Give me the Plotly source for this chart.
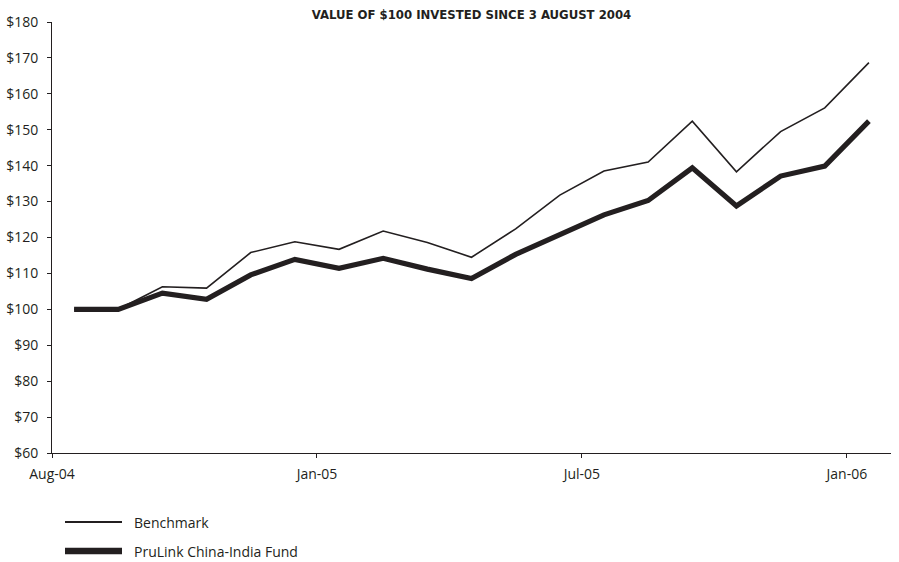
import plotly.graph_objects as go

# Monthly observations, Aug 2004 – Feb 2006 (value of $100 invested)
months = ["Aug-04", "Sep-04", "Oct-04", "Nov-04", "Dec-04", "Jan-05", "Feb-05",
          "Mar-05", "Apr-05", "May-05", "Jun-05", "Jul-05", "Aug-05", "Sep-05",
          "Oct-05", "Nov-05", "Dec-05", "Jan-06", "Feb-06"]
benchmark = [100, 100, 106.3, 105.9, 115.8, 118.8, 116.7, 121.8, 118.6, 114.5,
             122.4, 131.8, 138.5, 141.0, 152.4, 138.3, 149.5, 156.1, 168.7]
fund = [100, 100, 104.5, 102.8, 109.6, 113.9, 111.4, 114.2, 111.2, 108.6,
        115.3, 121.0, 126.3, 130.3, 139.4, 128.8, 137.1, 139.9, 152.4]

# Axis labels sit on the boundaries between monthly slots
tick_text = ["Aug-04", "Jan-05", "Jul-05", "Jan-06"]
tick_pos = [-0.5, 5.5, 11.5, 17.5]

series_names = ["Benchmark", "PruLink China-India Fund"]
series_widths = [1.6, 5.2]
ink = "#231f20"
x = list(range(len(months)))

W, H = 899, 562
M = dict(l=52, r=8, t=22, b=109)

fig = go.Figure()
for name, vals, w in zip(series_names, [benchmark, fund], series_widths):
    fig.add_trace(go.Scatter(
        x=x, y=vals, mode="lines", name=name, text=months,
        line=dict(color=ink, width=w), showlegend=False,
        hovertemplate="%{text}: $%{y:.1f}<extra>" + name + "</extra>",
    ))

# Hand-built legend below the plot (long line keys)
plot_w = W - M["l"] - M["r"]
plot_h = H - M["t"] - M["b"]
def px_x(p):
    return (p - M["l"]) / plot_w
def px_y(p):
    return (H - M["b"] - p) / plot_h

legend_rows = [522, 551]
for name, w, ry in zip(series_names, [1.8, 6.5], legend_rows):
    fig.add_shape(type="line", xref="paper", yref="paper",
                  x0=px_x(65), x1=px_x(122), y0=px_y(ry), y1=px_y(ry),
                  line=dict(color=ink, width=w))
    fig.add_annotation(xref="paper", yref="paper", x=px_x(132), y=px_y(ry),
                       xanchor="left", yanchor="middle", showarrow=False,
                       text=name, font=dict(family="Open Sans", size=14, color=ink))

fig.update_layout(
    width=W, height=H, margin=M,
    paper_bgcolor="white", plot_bgcolor="white",
    font=dict(family="Open Sans", size=14, color=ink),
    title=dict(text="<b>VALUE OF $100 INVESTED SINCE 3 AUGUST 2004</b>",
               x=(M["l"] + plot_w / 2) / W, xanchor="center",
               y=1 - 14 / H, yanchor="middle", yref="container",
               font=dict(family="DejaVu Sans Condensed, Roboto Condensed, Roboto, sans-serif",
                         size=13, color=ink)),
    xaxis=dict(range=[-0.5, 18.5], tickmode="array", tickvals=tick_pos,
               ticktext=tick_text, showgrid=False, zeroline=False,
               showline=True, linecolor=ink, linewidth=1, automargin=False,
               ticks="outside", ticklen=4, tickcolor=ink, tickwidth=1,
               ticklabelstandoff=4, tickfont=dict(size=14, color=ink)),
    yaxis=dict(range=[60, 180], dtick=10, tickprefix="$", showgrid=False,
               zeroline=False, showline=True, linecolor=ink, linewidth=1,
               automargin=False,
               ticks="outside", ticklen=4, tickcolor=ink, tickwidth=1,
               ticklabelstandoff=6, tickfont=dict(size=14, color=ink)),
)

fig.write_html("out.html")
